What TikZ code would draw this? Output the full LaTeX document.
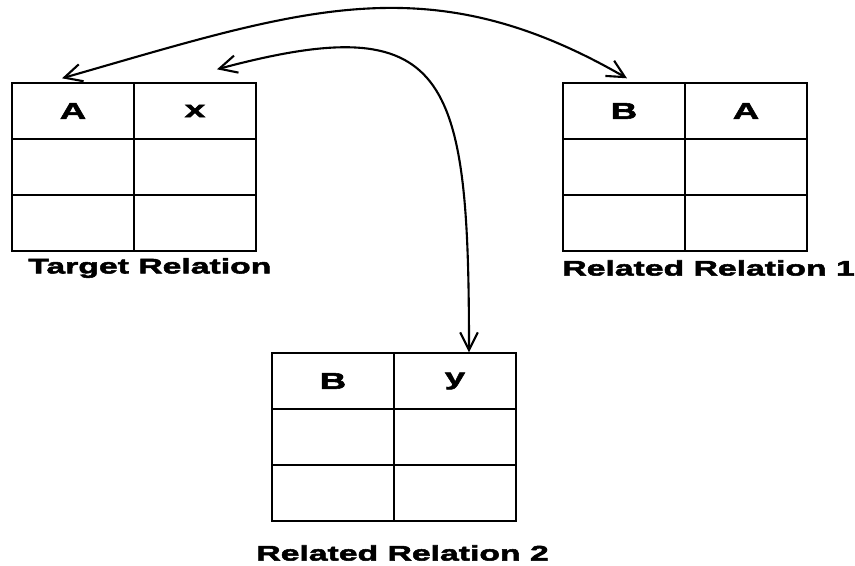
\documentclass[tikz,border=0pt]{standalone}
\usepackage{fontspec}
\setmainfont{Liberation Sans}[FakeStretch=1.6, BoldFeatures={FakeBold=2.5}]
\usetikzlibrary{arrows.meta,positioning}

\begin{document}
\begin{tikzpicture}[
  x=0.02cm, y=0.02cm,
  cell/.style={draw, line width=0.8pt, minimum width=2.44cm, minimum height=1.12cm, inner sep=0pt, font=\fontsize{13}{15}\selectfont\bfseries},
  relname/.style={font=\fontsize{12}{14}\selectfont\bfseries, inner sep=0pt},
  link/.style={line width=1.2pt, {Straight Barb[length=10pt,width=10pt]}-{Straight Barb[length=10pt,width=10pt]}}
]
\useasboundingbox (0,0) rectangle (855,565);

% Relation tables: name / top-left corner / header texts
\foreach \t/\x/\y/\ha/\hb in {tgr/12/482/A/x, relA/563/482/B/A, relB/272/212/B/y} {
  \node[cell] (\t-a1) at (\x+61, \y-28) {\ha};
  \node[cell] (\t-b1) at (\x+183, \y-28) {\hb};
  \foreach \r in {2,3} {
    \node[cell] (\t-a\r) at (\x+61, \y+28-56*\r) {};
    \node[cell] (\t-b\r) at (\x+183, \y+28-56*\r) {};
  }
}

% Relation names
\node[relname, anchor=west] (tgr-name) at (28, 297) {Target Relation};
\node[relname, anchor=west] (relA-name) at (562, 297) {Related Relation 1};
\node[relname, anchor=west] (relB-name) at (256, 12) {Related Relation 2};

% Links between attributes
\draw[link] ([xshift=-0.22cm, yshift=0.08cm]tgr-a1.north) .. controls +(16:250) and +(150:230) .. ([xshift=0.06cm, yshift=0.08cm]relA-a1.north);
\draw[link] ([xshift=0.44cm, yshift=0.26cm]tgr-b1.north) .. controls +(15:240) and +(90:280) .. ([xshift=0.28cm]relB-b1.north);
\end{tikzpicture}
\end{document}
